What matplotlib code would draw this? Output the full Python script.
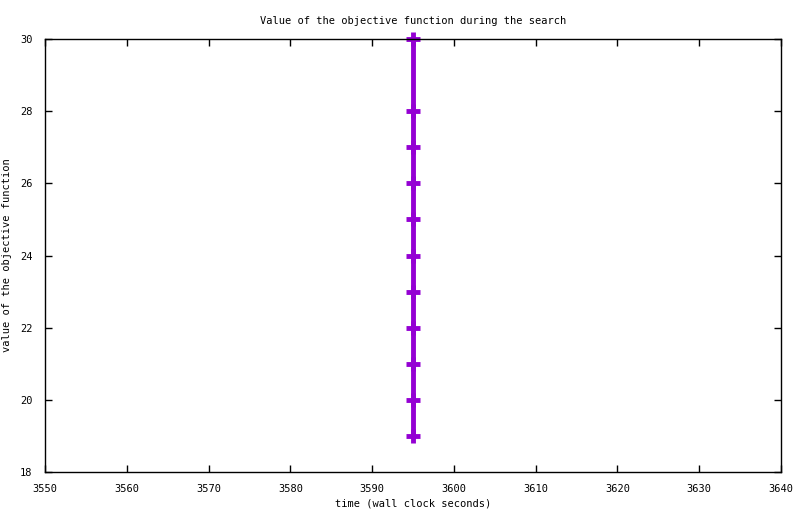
import matplotlib
matplotlib.use("Agg")
import matplotlib.pyplot as plt

# search progress: time vs objective value
times = [3595, 3595, 3595, 3595, 3595, 3595, 3595, 3595, 3595, 3595, 3595]
values = [30, 28, 27, 26, 25, 24, 23, 22, 21, 20, 19]
x_ticks = [3550, 3560, 3570, 3580, 3590, 3600, 3610, 3620, 3630, 3640]
y_ticks = [18, 20, 22, 24, 26, 28, 30]

plt.rcParams['font.family'] = ['DejaVu Sans Mono']
plt.rcParams['font.size'] = 7.5

fig = plt.figure(figsize=(8, 5.14), dpi=100)
ax = fig.add_axes([45/800, 1-472/514, (781-45)/800, (472-39)/514])

ax.plot(times, values, color='#9400d3', linewidth=3.5, marker='+',
        markersize=10, markeredgewidth=3.5, solid_capstyle='butt', clip_on=False)

ax.set_xlim(3550, 3640)
ax.set_ylim(18, 30)
ax.set_xticks(x_ticks)
ax.set_yticks(y_ticks)
ax.tick_params(direction='in', top=True, right=True, length=5, width=1, pad=9)
for s in ax.spines.values():
    s.set_linewidth(1)

ax.set_title("Value of the objective function during the search", fontsize=7.5, pad=11)
ax.set_xlabel("time (wall clock seconds)", fontsize=7.5, labelpad=3)
ax.set_ylabel("value of the objective function", fontsize=7.5)
ax.yaxis.set_label_coords(-0.045, 0.5)

fig.savefig("out.png", dpi=100)
